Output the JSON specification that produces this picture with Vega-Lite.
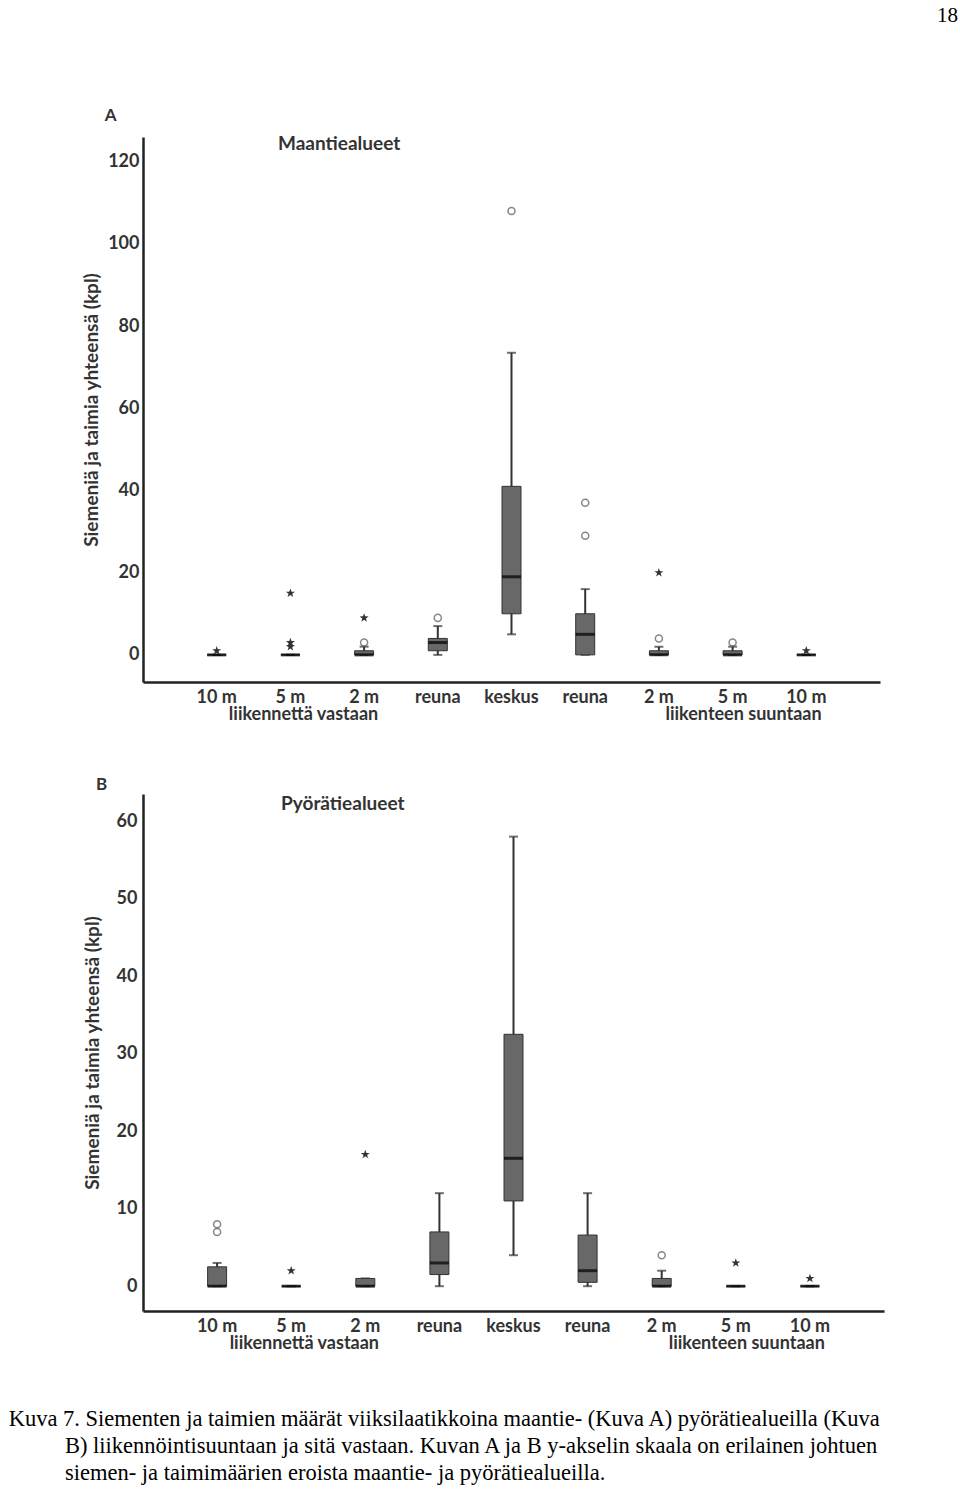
{
  "$schema": "https://vega.github.io/schema/vega-lite/v6.json",
  "padding": {"left": 8, "top": 5, "right": 2, "bottom": 0},
  "background": "white",
  "config": {"view": {"stroke": null}, "font": "Lato"},
  "datasets": {
    "boxA": [
      {"pos": 1, "lo": 0, "q1": 0, "med": 0, "q3": 0, "hi": 0},
      {"pos": 2, "lo": 0, "q1": 0, "med": 0, "q3": 0, "hi": 0},
      {"pos": 3, "lo": 0, "q1": 0, "med": 0, "q3": 1, "hi": 2},
      {"pos": 4, "lo": 0, "q1": 1, "med": 3, "q3": 4, "hi": 7},
      {"pos": 5, "lo": 5, "q1": 10, "med": 19, "q3": 41, "hi": 73.5},
      {"pos": 6, "lo": 0, "q1": 0, "med": 5, "q3": 10, "hi": 16},
      {"pos": 7, "lo": 0, "q1": 0, "med": 0, "q3": 1, "hi": 2},
      {"pos": 8, "lo": 0, "q1": 0, "med": 0, "q3": 1, "hi": 2},
      {"pos": 9, "lo": 0, "q1": 0, "med": 0, "q3": 0, "hi": 0}
    ],
    "outA": [
      {"pos": 1, "value": 1, "kind": "star"},
      {"pos": 2, "value": 15, "kind": "star"},
      {"pos": 2, "value": 3, "kind": "star"},
      {"pos": 2, "value": 2, "kind": "star"},
      {"pos": 3, "value": 3, "kind": "circle"},
      {"pos": 3, "value": 9, "kind": "star"},
      {"pos": 4, "value": 9, "kind": "circle"},
      {"pos": 5, "value": 108, "kind": "circle"},
      {"pos": 6, "value": 37, "kind": "circle"},
      {"pos": 6, "value": 29, "kind": "circle"},
      {"pos": 7, "value": 4, "kind": "circle"},
      {"pos": 7, "value": 20, "kind": "star"},
      {"pos": 8, "value": 3, "kind": "circle"},
      {"pos": 9, "value": 1, "kind": "star"}
    ],
    "boxB": [
      {"pos": 1, "lo": 0, "q1": 0, "med": 0, "q3": 2.5, "hi": 3},
      {"pos": 2, "lo": 0, "q1": 0, "med": 0, "q3": 0, "hi": 0},
      {"pos": 3, "lo": 0, "q1": 0, "med": 0, "q3": 1, "hi": 1},
      {"pos": 4, "lo": 0, "q1": 1.5, "med": 3, "q3": 7, "hi": 12},
      {"pos": 5, "lo": 4, "q1": 11, "med": 16.5, "q3": 32.5, "hi": 58},
      {"pos": 6, "lo": 0, "q1": 0.5, "med": 2, "q3": 6.6, "hi": 12},
      {"pos": 7, "lo": 0, "q1": 0, "med": 0, "q3": 1, "hi": 2},
      {"pos": 8, "lo": 0, "q1": 0, "med": 0, "q3": 0, "hi": 0},
      {"pos": 9, "lo": 0, "q1": 0, "med": 0, "q3": 0, "hi": 0}
    ],
    "outB": [
      {"pos": 1, "value": 7, "kind": "circle"},
      {"pos": 1, "value": 8, "kind": "circle"},
      {"pos": 2, "value": 2, "kind": "star"},
      {"pos": 3, "value": 17, "kind": "star"},
      {"pos": 7, "value": 4, "kind": "circle"},
      {"pos": 8, "value": 3, "kind": "star"},
      {"pos": 9, "value": 1, "kind": "star"}
    ]
  },
  "title": {"text": "18", "anchor": "end", "frame": "bounds", "dx": 74, "font": "Liberation Serif", "fontSize": 21, "fontWeight": "normal", "color": "#000", "offset": 81},
  "vconcat": [
    {
      "title": {
        "text": [
          "Kuva 7. Siementen ja taimien määrät viiksilaatikkoina maantie- (Kuva A) pyörätiealueilla (Kuva",
          "\u200b\u00a0\u00a0\u00a0\u00a0\u00a0\u00a0\u00a0\u00a0\u00a0\u00a0B) liikennöintisuuntaan ja sitä vastaan. Kuvan A ja B y-akselin skaala on erilainen johtuen",
          "\u200b\u00a0\u00a0\u00a0\u00a0\u00a0\u00a0\u00a0\u00a0\u00a0\u00a0siemen- ja taimimäärien eroista maantie- ja pyörätiealueilla."
        ],
        "orient": "bottom", "anchor": "start", "frame": "bounds", "dx": -74, "offset": 56,
        "font": "Liberation Serif", "fontSize": 22.5, "fontWeight": "normal", "lineHeight": 27, "color": "#000"
      },
      "spacing": 53,
      "vconcat": [
        {
          "title": {"text": "A", "anchor": "start", "frame": "bounds", "dx": 22, "offset": 10, "font": "Lato", "fontSize": 17, "fontWeight": "bold", "color": "#333"},
          "vconcat": [
            {
              "width": 737,
              "height": 545,
              "title": {"text": "Maantiealueet", "anchor": "start", "frame": "group", "dx": 135, "offset": -36, "baseline": "bottom", "font": "Lato", "fontSize": 19, "fontWeight": "bold", "color": "#333"},
              "encoding": {
                "x": {
                  "field": "pos", "type": "ordinal",
                  "scale": {"type": "band", "paddingInner": 0, "paddingOuter": 0.5},
                  "axis": {
                    "title": null, "ticks": false, "domainColor": "#222", "domainWidth": 2.5, "labelAngle": 0,
                    "labelFont": "Lato", "labelFontSize": 18, "labelFontWeight": "bold", "labelColor": "#333",
                    "labelPadding": 6, "labelLineHeight": 17, "labelOverlap": false,
                    "labelExpr": "[['10 m'], ['5 m', '\u200b\u00a0\u00a0\u00a0\u00a0\u00a0\u00a0liikennettä vastaan'], ['2 m'], ['reuna'], ['keskus'], ['reuna'], ['2 m'], ['5 m', '\u200b\u00a0\u00a0\u00a0\u00a0\u00a0liikenteen suuntaan'], ['10 m']][datum.value - 1]"
                  }
                }
              },
              "layer": [
                {"data": {"name": "boxA"}, "mark": {"type": "rule", "color": "#333", "strokeWidth": 2},
                 "encoding": {
                   "y": {"field": "lo", "type": "quantitative", "scale": {"domain": [-6.6, 126], "nice": false, "zero": false},
                         "axis": {"title": "Siemeniä ja taimia yhteensä (kpl)", "values": [0, 20, 40, 60, 80, 100, 120], "ticks": false, "grid": false,
                                  "domainColor": "#222", "domainWidth": 2.5, "labelFont": "Lato", "labelFontSize": 18, "labelFontWeight": "bold",
                                  "labelColor": "#333", "labelPadding": 4, "titleFont": "Lato", "titleFontSize": 19, "titleFontWeight": "bold",
                                  "titleColor": "#333", "titlePadding": 6}},
                   "y2": {"field": "hi"}}},
                {"data": {"name": "boxA"}, "mark": {"type": "tick", "color": "#333", "size": 9, "thickness": 2},
                 "encoding": {"y": {"field": "hi", "type": "quantitative"}}},
                {"data": {"name": "boxA"}, "mark": {"type": "tick", "color": "#333", "size": 9, "thickness": 2},
                 "encoding": {"y": {"field": "lo", "type": "quantitative"}}},
                {"data": {"name": "boxA"}, "mark": {"type": "bar", "width": 19, "fill": "#686868", "stroke": "#333", "strokeWidth": 1},
                 "encoding": {"y": {"field": "q1", "type": "quantitative"}, "y2": {"field": "q3"}}},
                {"data": {"name": "boxA"}, "mark": {"type": "tick", "color": "#000", "size": 19, "thickness": 3},
                 "encoding": {"y": {"field": "med", "type": "quantitative"}}},
                {"data": {"name": "outA"}, "transform": [{"filter": "datum.kind == 'circle'"}],
                 "mark": {"type": "point", "shape": "circle", "filled": false, "stroke": "#555", "strokeWidth": 1.5, "size": 50},
                 "encoding": {"y": {"field": "value", "type": "quantitative"}}},
                {"data": {"name": "outA"}, "transform": [{"filter": "datum.kind == 'star'"}],
                 "mark": {"type": "point", "shape": "M0,-1L0.235,-0.324L0.951,-0.309L0.38,0.124L0.588,0.809L0,0.4L-0.588,0.809L-0.38,0.124L-0.951,-0.309L-0.235,-0.324Z", "filled": true, "color": "#333", "opacity": 1, "size": 90},
                 "encoding": {"y": {"field": "value", "type": "quantitative"}}}
              ]
            }
          ]
        },
        {
          "title": {"text": "B", "anchor": "start", "frame": "bounds", "dx": 13, "offset": 0, "font": "Lato", "fontSize": 17, "fontWeight": "bold", "color": "#333"},
          "vconcat": [
            {
              "width": 741,
              "height": 517,
              "title": {"text": "Pyörätiealueet", "anchor": "start", "frame": "group", "dx": 138, "offset": -39, "baseline": "bottom", "font": "Lato", "fontSize": 19, "fontWeight": "bold", "color": "#333"},
              "encoding": {
                "x": {
                  "field": "pos", "type": "ordinal",
                  "scale": {"type": "band", "paddingInner": 0, "paddingOuter": 0.5},
                  "axis": {
                    "title": null, "ticks": false, "domainColor": "#222", "domainWidth": 2.5, "labelAngle": 0,
                    "labelFont": "Lato", "labelFontSize": 18, "labelFontWeight": "bold", "labelColor": "#333",
                    "labelPadding": 6, "labelLineHeight": 17, "labelOverlap": false,
                    "labelExpr": "[['10 m'], ['5 m', '\u200b\u00a0\u00a0\u00a0\u00a0\u00a0\u00a0liikennettä vastaan'], ['2 m'], ['reuna'], ['keskus'], ['reuna'], ['2 m'], ['5 m', '\u200b\u00a0\u00a0\u00a0\u00a0\u00a0liikenteen suuntaan'], ['10 m']][datum.value - 1]"
                  }
                }
              },
              "layer": [
                {"data": {"name": "boxB"}, "mark": {"type": "rule", "color": "#333", "strokeWidth": 2},
                 "encoding": {
                   "y": {"field": "lo", "type": "quantitative", "scale": {"domain": [-3.2, 63.5], "nice": false, "zero": false},
                         "axis": {"title": "Siemeniä ja taimia yhteensä (kpl)", "values": [0, 10, 20, 30, 40, 50, 60], "ticks": false, "grid": false,
                                  "domainColor": "#222", "domainWidth": 2.5, "labelFont": "Lato", "labelFontSize": 18, "labelFontWeight": "bold",
                                  "labelColor": "#333", "labelPadding": 6, "titleFont": "Lato", "titleFontSize": 19, "titleFontWeight": "bold",
                                  "titleColor": "#333", "titlePadding": 14}},
                   "y2": {"field": "hi"}}},
                {"data": {"name": "boxB"}, "mark": {"type": "tick", "color": "#333", "size": 9, "thickness": 2},
                 "encoding": {"y": {"field": "hi", "type": "quantitative"}}},
                {"data": {"name": "boxB"}, "mark": {"type": "tick", "color": "#333", "size": 9, "thickness": 2},
                 "encoding": {"y": {"field": "lo", "type": "quantitative"}}},
                {"data": {"name": "boxB"}, "mark": {"type": "bar", "width": 19, "fill": "#686868", "stroke": "#333", "strokeWidth": 1},
                 "encoding": {"y": {"field": "q1", "type": "quantitative"}, "y2": {"field": "q3"}}},
                {"data": {"name": "boxB"}, "mark": {"type": "tick", "color": "#000", "size": 19, "thickness": 3},
                 "encoding": {"y": {"field": "med", "type": "quantitative"}}},
                {"data": {"name": "outB"}, "transform": [{"filter": "datum.kind == 'circle'"}],
                 "mark": {"type": "point", "shape": "circle", "filled": false, "stroke": "#555", "strokeWidth": 1.5, "size": 50},
                 "encoding": {"y": {"field": "value", "type": "quantitative"}}},
                {"data": {"name": "outB"}, "transform": [{"filter": "datum.kind == 'star'"}],
                 "mark": {"type": "point", "shape": "M0,-1L0.235,-0.324L0.951,-0.309L0.38,0.124L0.588,0.809L0,0.4L-0.588,0.809L-0.38,0.124L-0.951,-0.309L-0.235,-0.324Z", "filled": true, "color": "#333", "opacity": 1, "size": 90},
                 "encoding": {"y": {"field": "value", "type": "quantitative"}}}
              ]
            }
          ]
        }
      ]
    }
  ]
}
